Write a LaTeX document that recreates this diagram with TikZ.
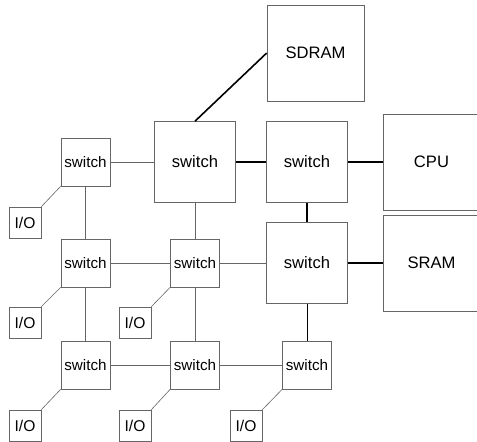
\documentclass[tikz,border=0pt]{standalone}
\usepackage{fontspec}
\setmainfont{Liberation Sans}
\begin{document}
\begin{tikzpicture}[x=1pt,y=-1pt,
	box/.style={draw=black!60, line width=0.6pt, inner sep=0pt},
	sw/.style={box, minimum width=49pt, minimum height=48pt, font=\fontsize{15.2}{18}\selectfont},
	bigsw/.style={box, minimum width=81pt, minimum height=81pt, font=\fontsize{16.6}{20}\selectfont},
	membox/.style={box, minimum width=97pt, minimum height=96pt, font=\fontsize{16.6}{20}\selectfont},
	iobox/.style={box, minimum width=32pt, minimum height=31pt, font=\fontsize{15.6}{18}\selectfont},
	wire/.style={draw=black!60, line width=0.6pt},
	midwire/.style={draw=black, line width=1pt},
	bus/.style={draw=black, line width=1.6pt}]
		\useasboundingbox (0,0) rectangle (477,442);
		
		% switches
		\node[sw] (s1) at (85.5,162) {switch};
		\node[bigsw] (s2) at (195,162) {switch};
		\node[bigsw] (s3) at (307,162) {switch};
		\node[sw] (s4) at (85.5,263) {switch};
		\node[sw] (s5) at (195,263) {switch};
		\node[bigsw] (s6) at (307,263) {switch};
		\node[sw] (s7) at (85.5,365) {switch};
		\node[sw] (s8) at (195,365) {switch};
		\node[sw] (s9) at (307,365) {switch};
		
		% memories and cpu
		\node[membox] (sdram) at (315.5,53) {SDRAM};
		\node[membox] (cpu) at (431.5,162) {CPU};
		\node[membox] (sram) at (431.5,263) {SRAM};
		
		% I/O
		\node[iobox] (io1) at (25,222.5) {I/O};
		\node[iobox] (io2) at (25,322.5) {I/O};
		\node[iobox] (io3) at (135,322.5) {I/O};
		\node[iobox] (io4) at (25,425.5) {I/O};
		\node[iobox] (io5) at (135,425.5) {I/O};
		\node[iobox] (io6) at (246,425.5) {I/O};
		
		\draw[bus] (s2) -- (s3);
		\draw[bus] (s3) -- (cpu);
		\draw[bus] (s2.north) -- (sdram.west);
		\draw[bus] (s3) -- (s6);
		\draw[bus] (s6) -- (sram);
		\draw[midwire] (s6) -- (s9);
		
		\draw[wire] (s1) -- (s2);
		\draw[wire] (s2) -- (s5);
		\draw[wire] (s1) -- (s4);
		\draw[wire] (s4) -- (s5);
		\draw[wire] (s5) -- (s6);
		\draw[wire] (s4) -- (s7);
		\draw[wire] (s5) -- (s8);
		\draw[wire] (s7) -- (s8);
		\draw[wire] (s8) -- (s9);
		
		\draw[wire] (s1.south west) -- (io1.north east);
		\draw[wire] (s4.south west) -- (io2.north east);
		\draw[wire] (s5.south west) -- (io3.north east);
		\draw[wire] (s7.south west) -- (io4.north east);
		\draw[wire] (s8.south west) -- (io5.north east);
		\draw[wire] (s9.south west) -- (io6.north east);
	\end{tikzpicture}
\end{document}
